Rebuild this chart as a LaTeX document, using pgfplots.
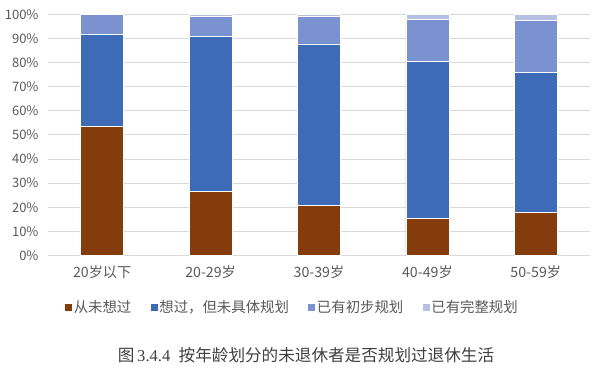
\documentclass[border=0pt]{standalone}
\usepackage{fontspec}
\usepackage{pgfplots}
\pgfplotsset{compat=1.18}
\setmainfont{Noto Sans CJK SC}
\newfontfamily\serifnum{Liberation Serif}
\definecolor{c1}{HTML}{843C0C}
\definecolor{c2}{HTML}{3E6BB7}
\definecolor{c3}{HTML}{7A92D0}
\definecolor{c4}{HTML}{B4C1E5}
\definecolor{lab}{HTML}{595959}
\definecolor{gridc}{HTML}{D9D9D9}
\begin{document}
\begin{tikzpicture}[x=1pt,y=1pt]
\path[use as bounding box] (0,0) rectangle (601,371);
\begin{axis}[
  at={(48pt,115.5pt)}, anchor=south west,
  scale only axis, width=542pt, height=241pt,
  ybar stacked, bar width=43pt,
  xmin=-0.5, xmax=4.5, ymin=0, ymax=100,
  xtick={0,1,2,3,4},
  xticklabels={20岁以下,20-29岁,30-39岁,40-49岁,50-59岁},
  ytick={0,10,...,100},
  yticklabel={\pgfmathparse{int(\tick)}\pgfmathresult\%},
  ymajorgrids, grid style={gridc, line width=1pt},
  axis line style={draw=none},
  major tick length=0pt,
  tick label style={text=lab},
  yticklabel style={font=\fontsize{13}{15}\selectfont, xshift=-6pt},
  xticklabel style={font=\fontsize{14.2}{16}\selectfont, yshift=-6pt},
  legend columns=4,
  legend style={draw=none, at={(0.026,-0.214)}, anchor=west,
    font=\fontsize{14.4}{16}\selectfont, text=lab,
    nodes={inner xsep=1.5pt},
    /tikz/every even column/.append style={column sep=18pt}},
  legend image code/.code={\fill[#1,draw=none] (0pt,-3.5pt) rectangle (7pt,3.5pt);},
]
\addplot[fill=c1, draw=white, line width=0.5pt] coordinates {(0,53.7) (1,26.5) (2,20.7) (3,15.3) (4,17.8)};
\addplot[fill=c2, draw=white, line width=0.5pt] coordinates {(0,38.2) (1,64.3) (2,67.1) (3,65.1) (4,58.1)};
\addplot[fill=c3, draw=white, line width=0.5pt] coordinates {(0,8.1) (1,8.3) (2,11.3) (3,17.7) (4,21.8)};
\addplot[fill=c4, draw=white, line width=0.5pt] coordinates {(0,0) (1,0.9) (2,0.9) (3,1.9) (4,2.3)};
\legend{从未想过,{想过，但未具体规划},已有初步规划,已有完整规划}
\end{axis}
\node[text=black!75, font=\fontsize{16.6}{18}\selectfont, anchor=center] at (306,16) {图\,{\serifnum 3.4.4}\enspace 按年龄划分的未退休者是否规划过退休生活};
\end{tikzpicture}
\end{document}
